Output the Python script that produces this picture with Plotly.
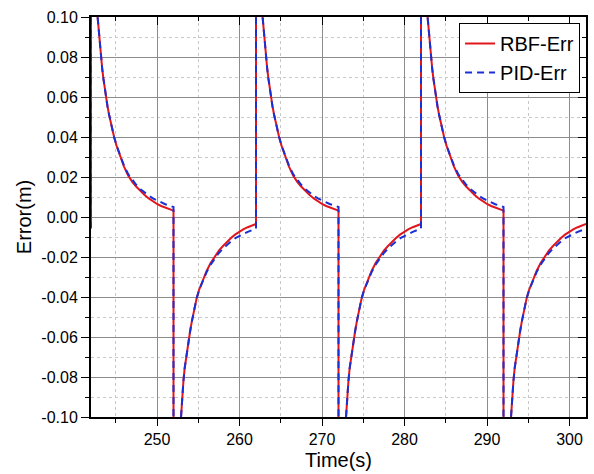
import plotly.graph_objects as go

# Switching instants of the square-wave reference and sign of each half cycle
switch_times = [242, 252, 262, 272, 282, 292]
switch_signs = [1, -1, 1, -1, 1, -1]
start_value_rbf = -0.0035
start_value_pid = -0.0058

# Error profiles, as offset (s) after each switch
offsets = [0, 0.3, 0.6, 0.8, 0.9, 1.0, 1.1, 1.2, 1.35, 1.5, 1.65, 1.8, 2.0, 2.2, 2.5, 2.8,
           3.1, 3.5, 4.0, 4.5, 5.0, 5.5, 6.0, 6.5, 7.0, 7.5, 8.0, 8.5, 9.0, 9.5, 10.0]
rbf_pos = [0.35, 0.2, 0.125, 0.100, 0.0946, 0.0894, 0.0846, 0.080, 0.0745, 0.0693, 0.0645,
           0.060, 0.0553, 0.0510, 0.0452, 0.040, 0.0356, 0.0305, 0.0252, 0.0208, 0.0176,
           0.0151, 0.0129, 0.0110, 0.0093, 0.0078, 0.0065, 0.0055, 0.0046, 0.0038, 0.0032]
pid_pos = [0.35, 0.2, 0.125, 0.100, 0.0946, 0.0894, 0.0846, 0.080, 0.0745, 0.0693, 0.0645,
           0.060, 0.0553, 0.0510, 0.0452, 0.040, 0.0357, 0.0308, 0.0257, 0.0215, 0.0185,
           0.0160, 0.0139, 0.0122, 0.0107, 0.0093, 0.0082, 0.0072, 0.0064, 0.0057, 0.0050]
rbf_neg = [-0.35, -0.2, -0.13, -0.107, -0.100, -0.0946, -0.0882, -0.0822, -0.0757, -0.0711,
           -0.0667, -0.0626, -0.0575, -0.0527, -0.0463, -0.0407, -0.0365, -0.0320, -0.0271,
           -0.0230, -0.0196, -0.0168, -0.0145, -0.0123, -0.0104, -0.0087, -0.0073, -0.0061,
           -0.0051, -0.0042, -0.0035]
pid_neg = [-0.35, -0.2, -0.13, -0.107, -0.100, -0.0946, -0.0882, -0.0822, -0.0757, -0.0711,
           -0.0667, -0.0626, -0.0575, -0.0527, -0.0463, -0.0407, -0.0366, -0.0324, -0.0277,
           -0.0238, -0.0206, -0.0180, -0.0158, -0.0138, -0.0121, -0.0106, -0.0094, -0.0083,
           -0.0074, -0.0066, -0.0058]

y_tickvals = [-0.10, -0.08, -0.06, -0.04, -0.02, 0.00, 0.02, 0.04, 0.06, 0.08, 0.10]
y_ticktext = ["-0.10", "-0.08", "-0.06", "-0.04", "-0.02", "0.00", "0.02", "0.04", "0.06", "0.08", "0.10"]
x_tickvals = [250, 260, 270, 280, 290, 300]


def build(start, pos, neg):
    xs, ys = [switch_times[0]], [start]
    for t0, s in zip(switch_times, switch_signs):
        prof = pos if s > 0 else neg
        for d, v in zip(offsets, prof):
            xs.append(t0 + d)
            ys.append(v)
    return xs, ys


x_rbf, y_rbf = build(start_value_rbf, rbf_pos, rbf_neg)
x_pid, y_pid = build(start_value_pid, pid_pos, pid_neg)

FONT = "Liberation Sans, Arial, sans-serif"
XR = [242, 302]
YR = [-0.10, 0.10]

fig = go.Figure()
fig.add_trace(go.Scatter(x=x_rbf, y=y_rbf, mode="lines", name="RBF-Err",
                         line=dict(color="#e0161c", width=2)))
fig.add_trace(go.Scatter(x=x_pid, y=y_pid, mode="lines", name="PID-Err",
                         line=dict(color="#1a2fd6", width=2, dash="7px,5px")))
fig.add_trace(go.Scatter(x=[None], y=[None], xaxis="x2", yaxis="y2", showlegend=False,
                         hoverinfo="skip"))

fig.update_layout(
    width=594, height=474,
    margin=dict(l=91, r=6, t=17, b=57),
    paper_bgcolor="white", plot_bgcolor="white",
    font=dict(family=FONT, size=16, color="black"),
    showlegend=True,
    legend=dict(x=0.988, y=0.985, xanchor="right", yanchor="top",
                bgcolor="white", bordercolor="black", borderwidth=1,
                font=dict(size=20, family=FONT), tracegroupgap=0),
    xaxis=dict(range=XR, tickvals=x_tickvals, ticks="outside", ticklen=7, tickwidth=1,
               tickcolor="black", showline=True, linecolor="black", linewidth=2, mirror=True,
               showgrid=True, gridcolor="#8c8c8c", gridwidth=1, zeroline=False,
               title=dict(text="Time(s)", font=dict(size=20, family=FONT), standoff=6),
               minor=dict(dtick=5, tick0=245, ticks="outside", ticklen=4, tickcolor="black",
                          showgrid=True, gridcolor="#c8c8c8", griddash="dot", gridwidth=1)),
    yaxis=dict(range=YR, tickvals=y_tickvals, ticktext=y_ticktext, ticks="outside", ticklen=8,
               tickwidth=1, tickcolor="black", showline=True, linecolor="black", linewidth=2,
               mirror=True, showgrid=True, gridcolor="#8c8c8c", gridwidth=1, zeroline=False,
               title=dict(text="Error(m)", font=dict(size=20, family=FONT), standoff=4),
               minor=dict(dtick=0.01, tick0=0.01, ticks="outside", ticklen=4, tickcolor="black",
                          showgrid=True, gridcolor="#c8c8c8", griddash="dot", gridwidth=1)),
    xaxis2=dict(range=XR, overlaying="x", side="top", anchor="y", tickvals=x_tickvals,
                ticks="inside", ticklen=8, tickcolor="black", showticklabels=False,
                showgrid=False, zeroline=False, showline=False,
                minor=dict(dtick=5, tick0=245, ticks="inside", ticklen=4, tickcolor="black",
                           showgrid=False)),
    yaxis2=dict(range=YR, overlaying="y", side="right", anchor="x", tickvals=y_tickvals,
                ticks="inside", ticklen=8, tickcolor="black", showticklabels=False,
                showgrid=False, zeroline=False, showline=False,
                minor=dict(dtick=0.01, tick0=0.01, ticks="inside", ticklen=4, tickcolor="black",
                           showgrid=False)),
)

fig.write_html("out.html")
